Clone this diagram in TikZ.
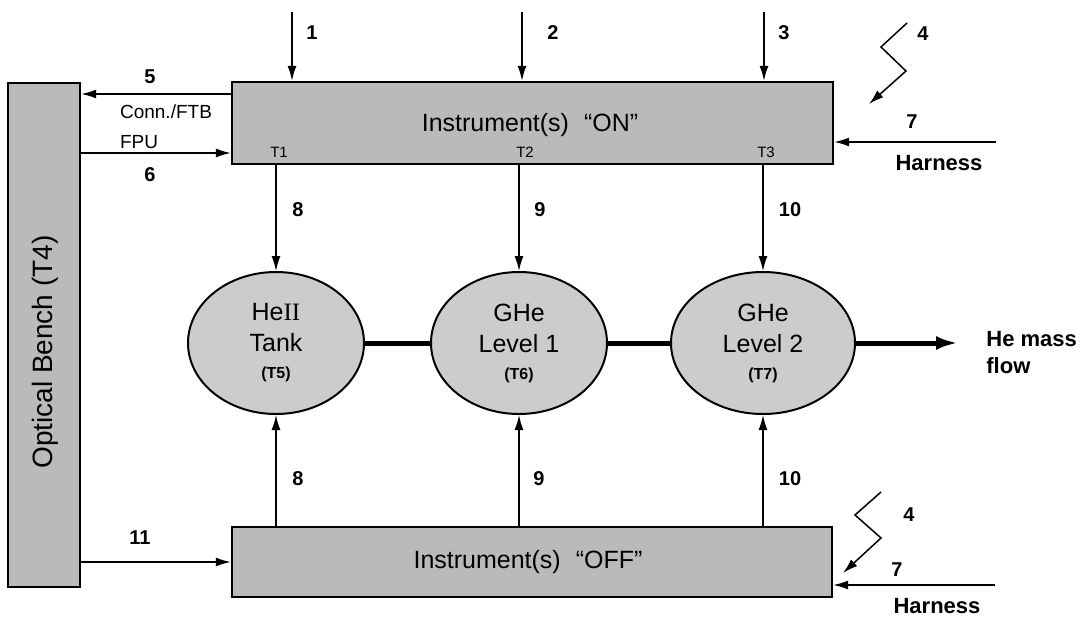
\documentclass[tikz,border=0pt]{standalone}
\usepackage{fontspec}
\setmainfont{Liberation Sans}
\newfontfamily\serifrm{Liberation Serif}
\newcommand\tsubfont{\bfseries\fontsize{8}{10}\selectfont}
\usetikzlibrary{arrows.meta,shapes.geometric}
\begin{document}
\begin{tikzpicture}[x=0.5pt,y=-0.5pt,
  arr/.style={draw, line width=0.75pt, -{Latex[length=7.5pt,width=4.5pt]}},
  flow/.style={draw, line width=2.5pt},
  box/.style={draw, line width=1.2pt, fill=black!27, rectangle, inner sep=0pt},
  tank/.style={draw, line width=1pt, fill=black!20, ellipse, inner sep=0pt,
    minimum width=88pt, minimum height=71pt, align=center,
    font=\fontsize{12.5}{15.5}\selectfont},
  boxtext/.style={inner sep=0pt, font=\fontsize{12.5}{15}\selectfont},
  num/.style={inner sep=0pt, font=\bfseries\fontsize{10}{12}\selectfont},
  big/.style={inner sep=0pt, font=\bfseries\fontsize{11}{13.5}\selectfont},
  small/.style={inner sep=0pt, font=\fontsize{9.5}{11}\selectfont},
  tlab/.style={inner sep=0pt, font=\fontsize{7.5}{9}\selectfont}]
\useasboundingbox (0,0) rectangle (1082,616);

% boxes
\node[box, minimum width=300.5pt, minimum height=41pt] (onbox) at (532.5,123) {};
\node[box, minimum width=300pt, minimum height=35pt] (offbox) at (532,562) {};
\node[box, minimum width=36pt, minimum height=252pt] (bench) at (44,335) {};
\node[boxtext] (ontext) at (530,125) {Instrument(s)\hspace{0.6em}“ON”};
\node[boxtext] (offtext) at (528,562) {Instrument(s)\hspace{0.6em}“OFF”};
\node[boxtext, rotate=90, font=\fontsize{14}{16}\selectfont] (benchtext) at (45,352) {Optical Bench (T4)};
\node[tlab] (t1) at (279,152) {T1};
\node[tlab] (t2) at (525,152) {T2};
\node[tlab] (t3) at (766,152) {T3};

% tanks
\node[tank] (he) at (276,343) {He{\serifrm II}\\Tank\\[-2pt]{\tsubfont (T5)}};
\node[tank] (g1) at (519,343) {GHe\\Level 1\\[-2pt]{\tsubfont (T6)}};
\node[tank, minimum width=92pt] (g2) at (763,343) {GHe\\Level 2\\[-2pt]{\tsubfont (T7)}};

% thick flow
\draw[flow] (he.east) -- (g1.west);
\draw[flow] (g1.east) -- (g2.west);
\coordinate (fend) at (958,343);
\draw[flow, -{Latex[length=11pt,width=7pt]}] (g2.east) -- (fend);
\node[big, anchor=west, align=left] (flowtext) at (986,353) {He mass\\flow};

% top inputs
\coordinate (s1) at (292,12);
\coordinate (s2) at (522,12);
\coordinate (s3) at (764,12);
\draw[arr] (s1) -- (s1 |- onbox.north);
\draw[arr] (s2) -- (s2 |- onbox.north);
\draw[arr] (s3) -- (s3 |- onbox.north);
\node[num] (n1) at (312,33) {1};
\node[num] (n2) at (553,33) {2};
\node[num] (n3) at (784,33) {3};

% on box to tanks
\draw[arr] (he.north |- onbox.south) -- (he.north);
\draw[arr] (g1.north |- onbox.south) -- (g1.north);
\draw[arr] (g2.north |- onbox.south) -- (g2.north);
\node[num] (n8a) at (298,210) {8};
\node[num] (n9a) at (540,210) {9};
\node[num] (n10a) at (790,210) {10};

% off box to tanks
\draw[arr] (he.south |- offbox.north) -- (he.south);
\draw[arr] (g1.south |- offbox.north) -- (g1.south);
\draw[arr] (g2.south |- offbox.north) -- (g2.south);
\node[num] (n8b) at (298,479) {8};
\node[num] (n9b) at (539,479) {9};
\node[num] (n10b) at (790,479) {10};

% bench links
\coordinate (y5) at (0,94);
\coordinate (y6) at (0,153);
\draw[arr] (onbox.west |- y5) -- (bench.east |- y5);
\draw[arr] (bench.east |- y6) -- (onbox.west |- y6);
\draw[arr] (bench.east |- offbox.west) -- (offbox.west);
\node[num] (n5) at (150,77) {5};
\node[small] (conn) at (166,112) {Conn./FTB};
\node[small] (fpu) at (139,142) {FPU};
\node[num] (n6) at (150,175) {6};
\node[num] (n11) at (140,538) {11};

% harness
\coordinate (h1) at (996,142);
\coordinate (h2) at (995,585);
\draw[arr] (h1) -- (onbox.east |- h1);
\draw[arr] (h2) -- (offbox.east |- h2);
\node[num] (n7a) at (912,122) {7};
\node[num] (n7b) at (897,570) {7};
\node[big] (har1) at (939,163) {Harness};
\node[big] (har2) at (937,606) {Harness};

% radiation zigzags
\coordinate (z1) at (907,23);
\coordinate (z1e) at (869,104);
\draw[arr] (z1) -- (881,47) -- (906,71) -- (z1e);
\node[num] (n4a) at (923,34) {4};
\coordinate (z2) at (881,492);
\coordinate (z2e) at (843,573);
\draw[arr] (z2) -- (855,515) -- (881,538) -- (z2e);
\node[num] (n4b) at (909,515) {4};
\end{tikzpicture}
\end{document}
